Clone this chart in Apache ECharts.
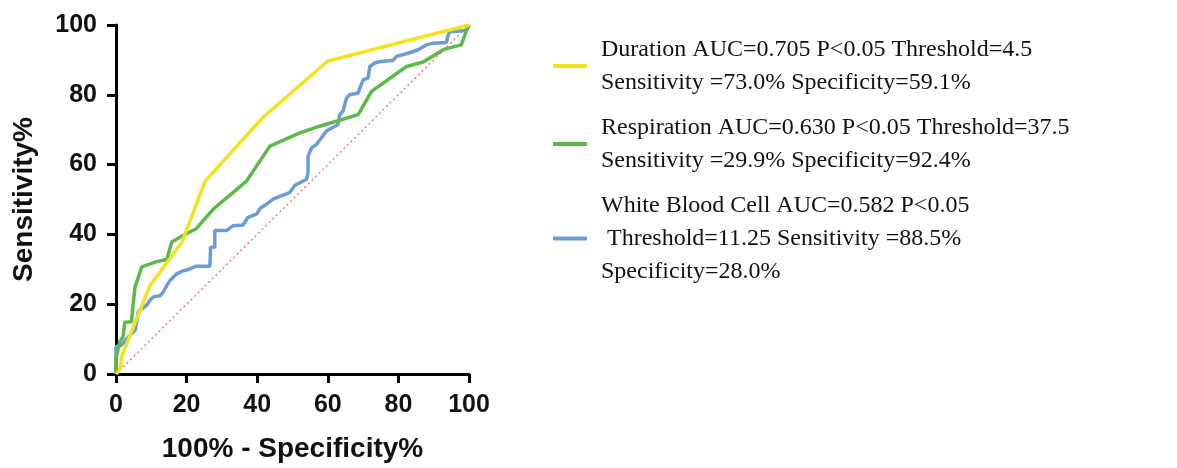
<!DOCTYPE html>
<html>
<head>
<meta charset="utf-8">
<script src="https://cdn.jsdelivr.net/npm/echarts@6/dist/echarts.min.js"></script>
<style>html,body{margin:0;padding:0;background:#fff;}#c{width:1177px;height:468px;}</style>
</head>
<body>
<div id="c"></div>
<script>
// Duration
var durationX = [0, 0.85, 1.4, 1.7, 9.6, 18.7, 25.2, 41.6, 60.0, 100];
var durationY = [0, 0.8, 2.5, 5.3, 25.3, 37.8, 55.2, 73.5, 89.7, 100];
// Respiration
var respX = [0, 0, 1.1, 2.0, 2.5, 4.4, 4.8, 5.4, 7.3, 11.5, 14.4, 15.8, 18.1, 22.8, 27.5, 34.2, 37.0, 43.6, 52.1, 57.7, 68.6, 72.4, 82.3, 87.0, 93.1, 97.8, 99.7, 100];
var respY = [0, 4.5, 9.3, 10.7, 14.8, 15.0, 19.6, 25.0, 30.7, 32.2, 32.8, 37.8, 39.2, 41.7, 47.2, 52.9, 55.3, 65.3, 69.1, 71.0, 74.3, 81.0, 88.1, 89.4, 93.1, 94.3, 99.5, 100];
// White Blood Cell
var wbcX = [0, 0, 1.6, 2.8, 4.0, 5.4, 5.9, 6.3, 7.3, 8.7, 9.6, 10.6, 12.5, 13.4, 14.4, 15.3, 17.2, 18.6, 20.9, 22.8, 26.6, 26.8, 28.0, 28.0, 31.3, 33.2, 36.0, 37.4, 39.8, 40.8, 42.7, 44.5, 46.4, 49.2, 50.7, 54.0, 54.4, 54.4, 55.4, 56.8, 58.2, 59.6, 62.9, 63.4, 64.3, 65.3, 66.2, 68.6, 69.1, 70.0, 71.4, 71.9, 73.3, 74.7, 78.5, 79.5, 82.7, 85.6, 87.9, 89.8, 93.6, 94.1, 94.5, 99.3, 100];
var wbcY = [0, 7.8, 8.3, 9.9, 11.1, 12.5, 14.9, 17.8, 18.7, 19.7, 21.1, 22.1, 22.4, 23.5, 25.4, 26.8, 28.7, 29.4, 30.1, 30.9, 30.9, 36.3, 36.3, 41.1, 41.1, 42.5, 42.7, 44.9, 45.8, 47.4, 48.7, 50.1, 50.9, 52.0, 54.1, 55.8, 57.7, 62.4, 64.8, 65.8, 67.7, 69.6, 71.5, 74.3, 75.3, 79.1, 80.0, 80.5, 82.0, 84.3, 84.8, 88.1, 89.1, 89.5, 89.9, 91.0, 91.9, 92.9, 94.3, 94.8, 95.0, 97.1, 98.1, 98.4, 100];
// Reference diagonal
var refX = [0, 100];
var refY = [0, 100];

var seriesNames = ['Duration', 'Respiration', 'White Blood Cell'];
var legendLabels = [
  'Duration AUC=0.705 P<0.05 Threshold=4.5\nSensitivity =73.0% Specificity=59.1%',
  'Respiration AUC=0.630 P<0.05 Threshold=37.5\nSensitivity =29.9% Specificity=92.4%',
  'White Blood Cell AUC=0.582 P<0.05\n Threshold=11.25 Sensitivity =88.5%\nSpecificity=28.0%'
];
var axisTicks = [0, 20, 40, 60, 80, 100];
var xAxisName = '100% - Specificity%';
var yAxisName = 'Sensitivity%';

function zip(xs, ys) { return xs.map(function (x, i) { return [x, ys[i]]; }); }

var colors = ['#F2E41C', '#5DB84A', '#6A9CDA'];
var chart = echarts.init(document.getElementById('c'), null, {renderer: 'canvas'});
var axisCommon = {
  type: 'value', min: axisTicks[0], max: axisTicks[axisTicks.length - 1], interval: 20,
  splitLine: {show: false},
  axisLine: {show: true, lineStyle: {color: '#000', width: 3}},
  axisTick: {show: true, length: 9, lineStyle: {color: '#000', width: 3}},
  nameLocation: 'middle',
  nameTextStyle: {fontFamily: 'Liberation Sans', fontWeight: 'bold', fontSize: 28, color: '#111'}
};
chart.setOption({
  animation: false,
  backgroundColor: '#fff',
  grid: {left: 116, right: 708, top: 25, bottom: 92, containLabel: false},
  xAxis: Object.assign({}, axisCommon, {
    name: xAxisName, nameGap: 61,
    axisLabel: {fontFamily: 'Liberation Sans', fontWeight: 'bold', fontSize: 25, color: '#111', margin: 19}
  }),
  yAxis: Object.assign({}, axisCommon, {
    name: yAxisName, nameGap: 78,
    axisLabel: {fontFamily: 'Liberation Sans', fontWeight: 'bold', fontSize: 25, color: '#111', margin: 19}
  }),
  legend: {
    orient: 'vertical', left: 548, top: 28, itemGap: 12,
    itemWidth: 34, itemHeight: 4, icon: 'rect',
    data: seriesNames,
    formatter: function (n) { return legendLabels[seriesNames.indexOf(n)]; },
    textStyle: {fontFamily: 'Liberation Serif', fontSize: 24, lineHeight: 33, color: '#111', padding: [0, 0, 0, 9]}
  },
  series: [
    {name: 'ref', type: 'line', data: zip(refX, refY), showSymbol: false, silent: true, z: 1,
      lineStyle: {color: '#F06A6A', width: 1.3, type: [2, 3]}},
    {name: seriesNames[2], type: 'line', data: zip(wbcX, wbcY), showSymbol: false, z: 2,
      itemStyle: {color: colors[2]}, lineStyle: {color: colors[2], width: 3.5}},
    {name: seriesNames[1], type: 'line', data: zip(respX, respY), showSymbol: false, z: 3,
      itemStyle: {color: colors[1]}, lineStyle: {color: colors[1], width: 3.5}},
    {name: seriesNames[0], type: 'line', data: zip(durationX, durationY), showSymbol: false, z: 4,
      itemStyle: {color: colors[0]}, lineStyle: {color: colors[0], width: 3.5}}
  ]
});
</script>
</body>
</html>
